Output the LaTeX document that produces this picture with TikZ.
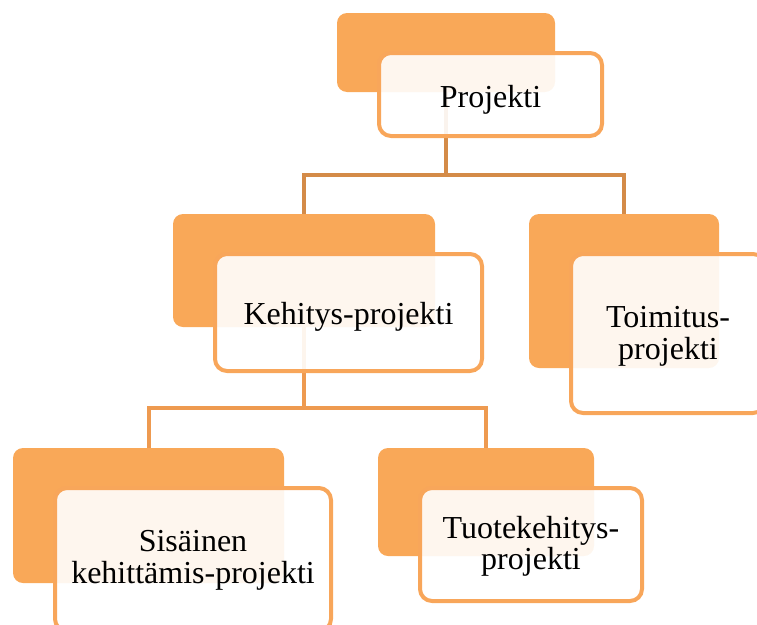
\documentclass[tikz,border=0pt]{standalone}
\usepackage{fontspec}
\setmainfont{Liberation Serif}
\definecolor{orangeback}{RGB}{249,168,88}
\definecolor{orangeline}{RGB}{248,166,90}
\definecolor{conntop}{RGB}{212,139,72}
\definecolor{connlow}{RGB}{238,154,80}
\tikzset{
  backbox/.style={rectangle, rounded corners=10pt, fill=orangeback, inner sep=0pt, outer sep=0pt},
  frontbox/.style={rectangle, rounded corners=12pt, draw=orangeline, line width=4pt, fill=white,
    fill opacity=0.9, inner sep=0pt, outer sep=0pt},
  txt/.style={inner sep=0pt, outer sep=0pt, align=center, text=black,
    font=\fontsize{32}{31.5}\selectfont},
  conn/.style={line width=4pt}
}
\begin{document}
\begin{tikzpicture}[x=1pt,y=-1pt]
\useasboundingbox (0,0) rectangle (757,624);
\clip (0,0) rectangle (757,624);
% back boxes
\node[backbox, minimum width=218pt, minimum height=79pt] (pb) at (446,52.5) {};
\node[backbox, minimum width=262pt, minimum height=113pt] (kb) at (304,270.5) {};
\node[backbox, minimum width=190pt, minimum height=154pt] (tb) at (624,291) {};
\node[backbox, minimum width=271pt, minimum height=135pt] (sb) at (148.5,515.5) {};
\node[backbox, minimum width=216pt, minimum height=108pt] (ub) at (486,502) {};
% connectors
\coordinate (j1) at (446,175);
\coordinate (j2) at (304,408);
\draw[conn, conntop] (pb.south) -- (j1);
\draw[conn, conntop] (kb.north) |- (j1) -| (tb.north);
\draw[conn, connlow] (kb.south) -- (j2);
\draw[conn, connlow] (sb.north) |- (j2) -| (ub.north);
% front boxes
\node[frontbox, minimum width=223pt, minimum height=83pt] (pf) at (490.5,94.5) {};
\node[frontbox, minimum width=267pt, minimum height=117pt] (kf) at (348.5,312.5) {};
\node[frontbox, minimum width=194pt, minimum height=159pt] (tf) at (668,333.5) {};
\node[frontbox, minimum width=276pt, minimum height=143pt] (sf) at (193,559.5) {};
\node[frontbox, minimum width=222pt, minimum height=113pt] (uf) at (531,544.5) {};
% texts
\node[txt, anchor=base] (pt) at ([yshift=-12.5pt]pf.center) {Projekti};
\node[txt, anchor=base] (kt) at ([yshift=-11.5pt]kf.center) {Kehitys-projekti};
\node[txt] (tt) at ([yshift=-2.75pt]tf.center) {Toimitus-\\projekti};
\node[txt] (st) at ([yshift=-0.75pt]sf.center) {Sisäinen\\kehittämis-projekti};
\node[txt] (ut) at ([yshift=-2pt]uf.center) {Tuotekehitys-\\projekti};
\end{tikzpicture}
\end{document}
